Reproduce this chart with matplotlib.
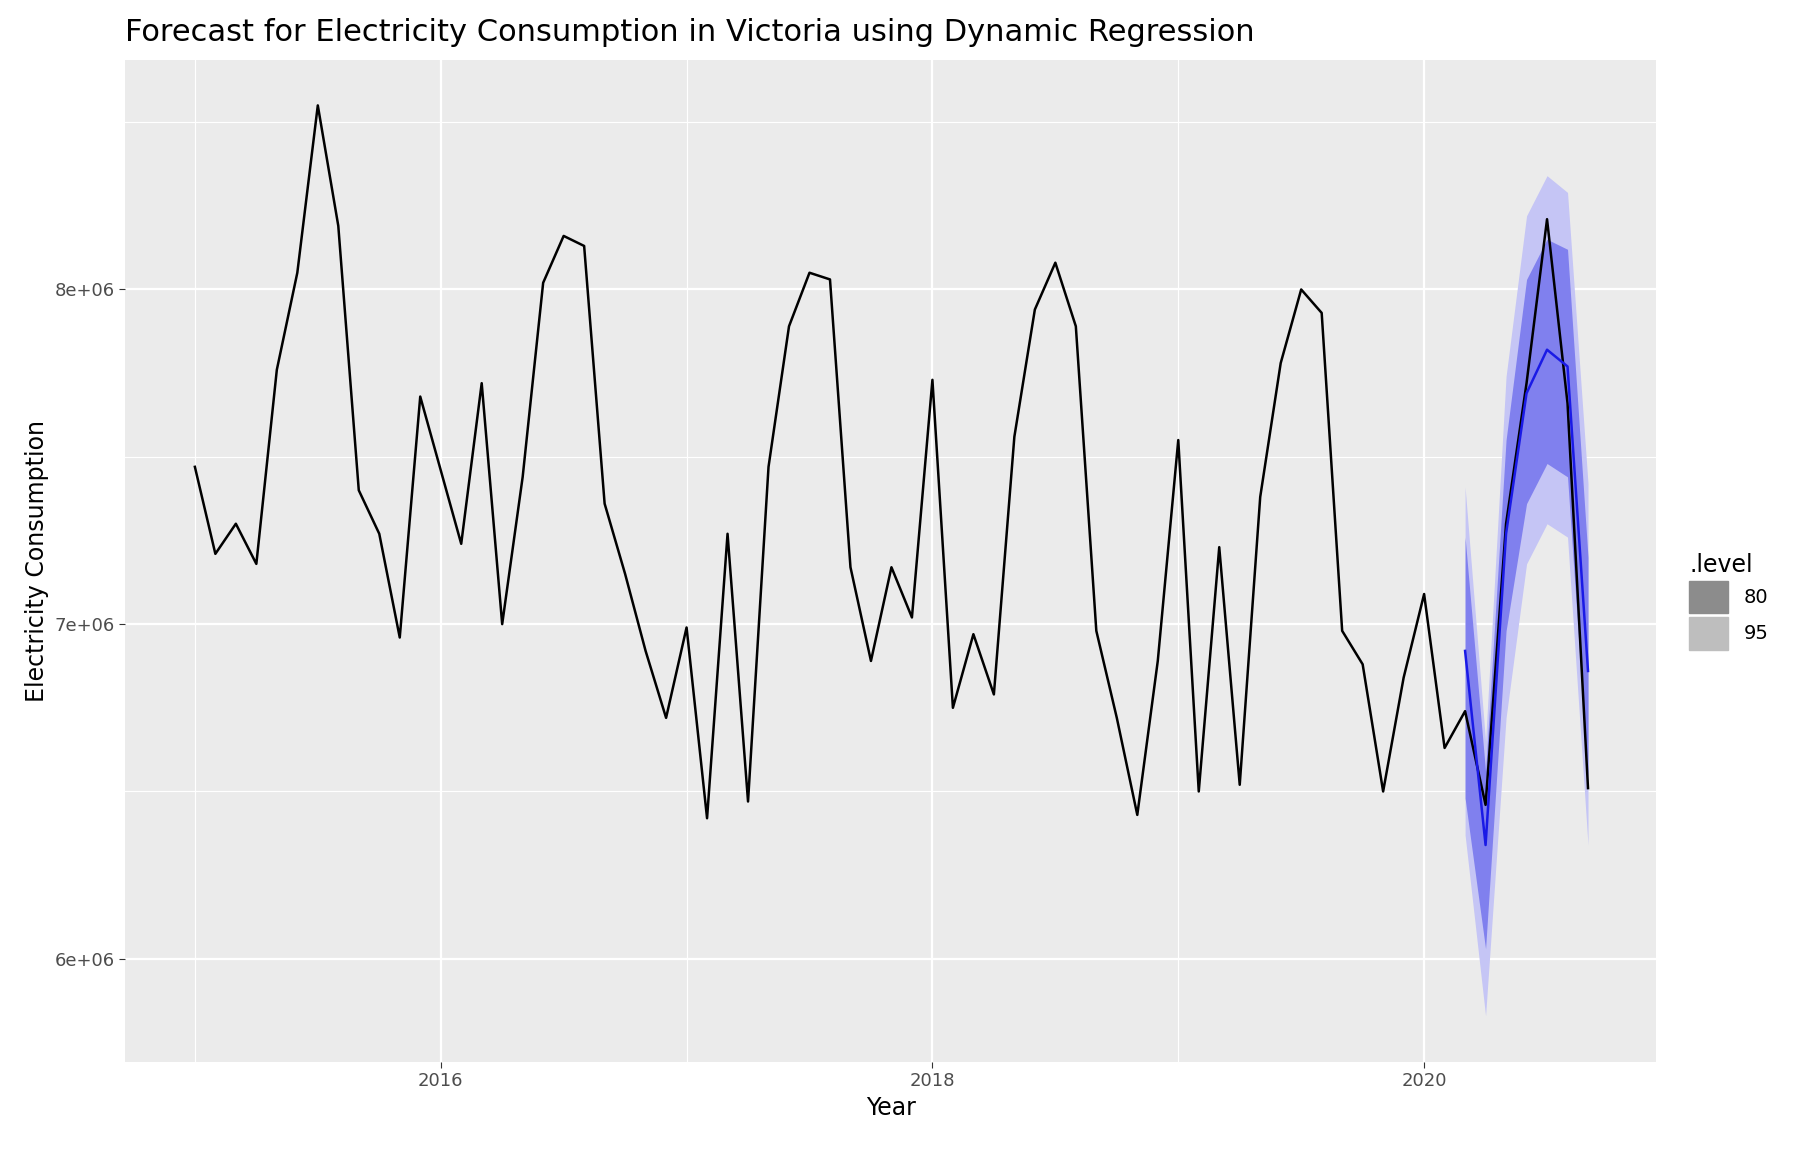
import numpy as np
import matplotlib.pyplot as plt
from matplotlib.patches import Patch

# monthly consumption, Jan 2015 .. Sep 2020
consumption = [7.47, 7.21, 7.30, 7.18, 7.76, 8.05, 8.55, 8.19, 7.40, 7.27, 6.96, 7.68,
               7.46, 7.24, 7.72, 7.00, 7.44, 8.02, 8.16, 8.13, 7.36, 7.15, 6.92, 6.72,
               6.99, 6.42, 7.27, 6.47, 7.47, 7.89, 8.05, 8.03, 7.17, 6.89, 7.17, 7.02,
               7.73, 6.75, 6.97, 6.79, 7.56, 7.94, 8.08, 7.89, 6.98, 6.72, 6.43, 6.89,
               7.55, 6.50, 7.23, 6.52, 7.38, 7.78, 8.00, 7.93, 6.98, 6.88, 6.50, 6.84,
               7.09, 6.63, 6.74, 6.46, 7.30, 7.72, 8.21, 7.66, 6.51]
# forecast Mar 2020 .. Sep 2020
fc_start = 62
fc_mean = [6.92, 6.34, 7.27, 7.69, 7.82, 7.77, 6.86]
lo80 = [6.48, 6.03, 6.98, 7.36, 7.48, 7.44, 6.54]
hi80 = [7.26, 6.56, 7.55, 8.03, 8.15, 8.12, 7.20]
lo95 = [6.37, 5.83, 6.72, 7.18, 7.30, 7.26, 6.34]
hi95 = [7.41, 6.65, 7.74, 8.22, 8.34, 8.29, 7.42]

scale = 1e6
years = 2015 + np.arange(len(consumption)) / 12
fyears = years[fc_start:fc_start + len(fc_mean)]

fig = plt.figure(figsize=(18.16, 11.58), dpi=100)
ax = fig.add_axes([0.069, 0.083, 0.843, 0.865])
ax.set_facecolor("#EBEBEB")
for s in ax.spines.values():
    s.set_visible(False)

ax.fill_between(fyears, np.array(lo95) * scale, np.array(hi95) * scale, color="#C5C5F5", lw=0)
ax.fill_between(fyears, np.array(lo80) * scale, np.array(hi80) * scale, color="#8080EE", lw=0)
ax.plot(years, np.array(consumption) * scale, color="black", lw=1.8)
ax.plot(fyears, np.array(fc_mean) * scale, color="#1A1AE6", lw=1.8)

ax.set_xlim(2014.717, 2020.944)
ax.set_ylim(5.692e6, 8.685e6)
ax.set_xticks([2016, 2018, 2020])
ax.set_xticks([2015, 2017, 2019], minor=True)
ax.set_yticks([6e6, 7e6, 8e6])
ax.set_yticklabels(["6e+06", "7e+06", "8e+06"])
ax.set_yticks([6.5e6, 7.5e6, 8.5e6], minor=True)
ax.grid(which="major", color="white", lw=1.6)
ax.grid(which="minor", color="white", lw=0.8)
ax.set_axisbelow(True)
ax.tick_params(which="major", length=4, color="#333333", labelsize=13, labelcolor="#4D4D4D")
ax.tick_params(which="minor", length=0)

ax.set_xlabel("Year", fontsize=17)
ax.set_ylabel("Electricity Consumption", fontsize=17)
ax.set_title("Forecast for Electricity Consumption in Victoria using Dynamic Regression",
             fontsize=22, loc="left", x=0.0, pad=14)

handles = [Patch(color="#8C8C8C", label="80"), Patch(color="#BEBEBE", label="95")]
leg = ax.legend(handles=handles, title=".level", loc="center left", bbox_to_anchor=(1.01, 0.46),
                frameon=False, fontsize=14, title_fontsize=17, handlelength=2.0, handleheight=2.2,
                labelspacing=0.2, alignment="left")

fig.savefig("out.png", dpi=100)
